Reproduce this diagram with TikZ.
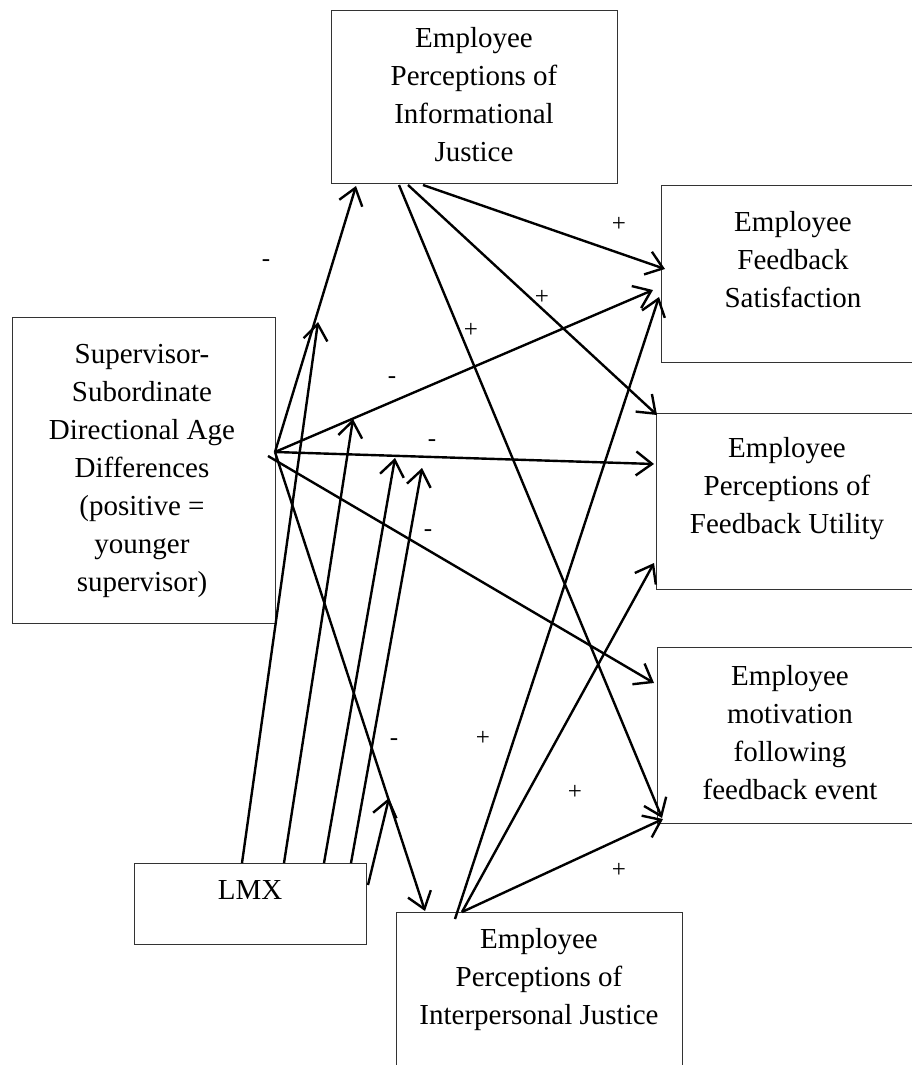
\documentclass[tikz,border=0pt]{standalone}
\usepackage{fontspec}
\setmainfont{Liberation Serif}
\usetikzlibrary{arrows.meta,calc}
\begin{document}
\begin{tikzpicture}[x=1pt,y=-1pt,
  box/.style={draw=black!80, line width=1.3pt, inner sep=0pt, anchor=north west},
  txt/.style={font=\fontsize{29}{38}\selectfont, align=center, inner sep=0pt, anchor=north},
  sign/.style={font=\fontsize{25}{25}\selectfont, inner sep=0pt},
  link/.style={line width=2.4pt, -{Straight Barb[length=16pt,width=24pt]}},
  modlink/.style={line width=2.4pt, -{Straight Barb[length=16pt,width=24pt]}}]
\useasboundingbox (0,0) rectangle (912,1065);
\clip (0,0) rectangle (912,1065);

% boxes
\node[box, minimum width=286pt, minimum height=173pt] (info) at (331,10) {};
\node[box, minimum width=290pt, minimum height=177pt] (sat) at (661,185) {};
\node[box, minimum width=290pt, minimum height=176pt] (util) at (656,413) {};
\node[box, minimum width=290pt, minimum height=176pt] (mot) at (657,647) {};
\node[box, minimum width=263pt, minimum height=306pt] (sup) at (12,317) {};
\node[box, minimum width=232pt, minimum height=81pt] (lmx) at (134,863) {};
\node[box, minimum width=286pt, minimum height=200pt] (interp) at (396,912) {};

% texts
\node[txt] (info-t) at (474,27) {Employee\\Perceptions of\\Informational\\Justice};
\node[txt] (sat-t) at (793,211) {Employee\\Feedback\\Satisfaction};
\node[txt] (util-t) at (787,437) {Employee\\Perceptions of\\Feedback Utility};
\node[txt] (mot-t) at (790,665) {Employee\\motivation\\following\\feedback event};
\node[txt] (sup-t) at (142,344.5) {Supervisor-\\Subordinate\\Directional Age\\Differences\\(positive =\\younger\\supervisor)};
\node[txt] (lmx-t) at (250,880) {LMX};
\node[txt] (interp-t) at (539,928) {Employee\\Perceptions of\\Interpersonal Justice};

% attachment points
\coordinate (s-o) at (275,452);
\coordinate (s-o2) at (268,456);
\coordinate (info-in) at (356,186);
\coordinate (info-o1) at (423,185);
\coordinate (info-o2) at (408,185);
\coordinate (info-o3) at (399,185);
\coordinate (sat-in1) at (665,269);
\coordinate (sat-in2) at (653,290);
\coordinate (sat-in3) at (659,297);
\coordinate (util-in1) at (657,415);
\coordinate (util-in2) at (654,464);
\coordinate (util-in3) at (654,563);
\coordinate (mot-in1) at (654,683);
\coordinate (mot-in2) at (662,818);
\coordinate (mot-in3) at (663,819);
\coordinate (interp-in) at (425,911);
\coordinate (int-o1) at (455,919);
\coordinate (int-o2) at (462,912);
\coordinate (lmx-o1) at (242,863);
\coordinate (lmx-o2) at (284,863);
\coordinate (lmx-o3) at (324,863);
\coordinate (lmx-o4) at (351,863);
\coordinate (lmx-o5) at (368,885);
\coordinate (m1) at (318,322);
\coordinate (m2) at (353,419);
\coordinate (m3) at (395,458);
\coordinate (m4) at (422,468);
\coordinate (m5) at (389,798);

% supervisor paths
\draw[link] (s-o) -- (info-in);
\draw[link] (s-o) -- (sat-in2);
\draw[link] (s-o) -- (util-in2);
\draw[link] (s-o2) -- (mot-in1);
\draw[link] (s-o) -- (interp-in);

% informational justice paths
\draw[link] (info-o1) -- (sat-in1);
\draw[link] (info-o2) -- (util-in1);
\draw[link] (info-o3) -- (mot-in2);

% interpersonal justice paths
\draw[link] (int-o1) -- (sat-in3);
\draw[link] (int-o2) -- (util-in3);
\draw[link] (int-o2) -- (mot-in3);

% LMX moderation
\draw[modlink] (lmx-o1) -- (m1);
\draw[modlink] (lmx-o2) -- (m2);
\draw[modlink] (lmx-o3) -- (m3);
\draw[modlink] (lmx-o4) -- (m4);
\draw[modlink] (lmx-o5) -- (m5);

% signs
\node[sign] (l1) at (266,263) {-};
\node[sign] (l2) at (619,224) {+};
\node[sign] (l3) at (542,297) {+};
\node[sign] (l4) at (471,330) {+};
\node[sign] (l5) at (392,380) {-};
\node[sign] (l6) at (432,443) {-};
\node[sign] (l7) at (428,533) {-};
\node[sign] (l8) at (394,742) {-};
\node[sign] (l9) at (483,738) {+};
\node[sign] (l10) at (575,792) {+};
\node[sign] (l11) at (619,870) {+};
\end{tikzpicture}
\end{document}
